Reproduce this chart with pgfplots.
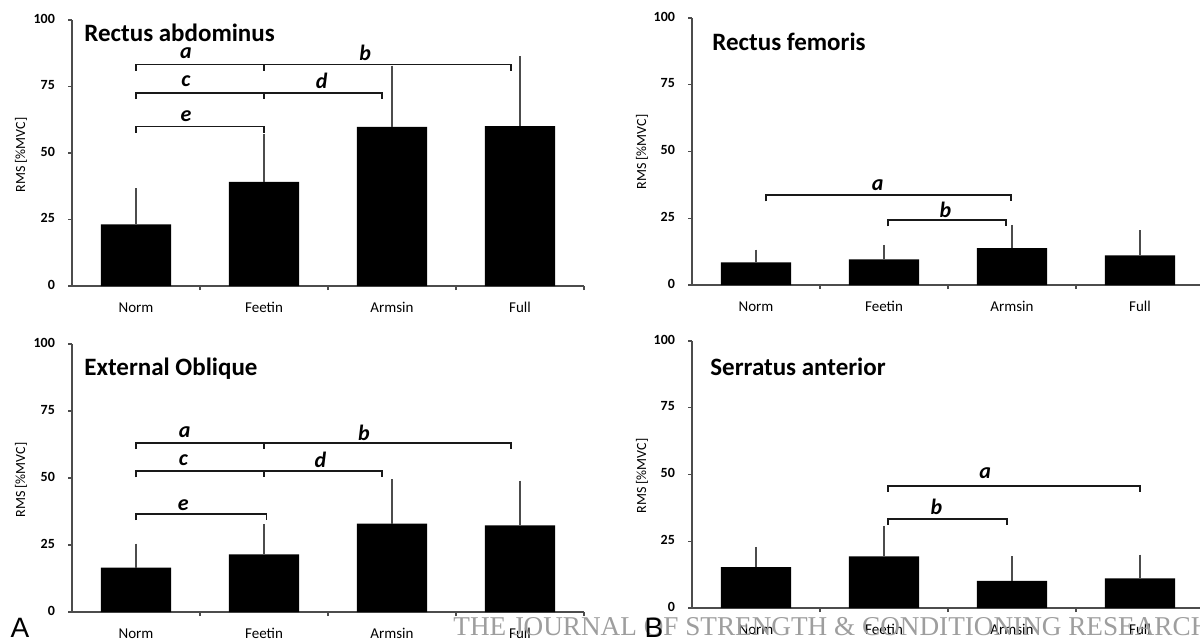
\documentclass[border=0pt]{standalone}
\usepackage{fontspec}
\setmainfont{Carlito}
\newfontfamily\arialf{Liberation Sans}
\newfontfamily\timesf{Liberation Serif}
\usepackage{pgfplots}
\pgfplotsset{compat=1.18}
\pgfplotsset{
 panel/.style={
  scale only axis, width=256pt,
  xmin=0.5, xmax=4.5, ymin=0, ymax=100,
  axis x line=bottom, axis y line=left,
  axis line style={-, black!70, line width=0.6pt},
  tick style={black!70, line width=0.6pt},
  major tick length=2pt, tick align=outside,
  ytick={0,25,50,75,100},
  xtick={1.5,2.5,3.5,4.5},
  xticklabels={Norm,Feetin,Armsin,Full},
  typeset ticklabels with strut,
  xticklabel style={xshift=-32pt, yshift=-1.5pt, font=\fontsize{7.5}{9}\selectfont},
  yticklabel style={xshift=-3pt, font=\fontsize{7}{8}\selectfont\bfseries},
  /pgf/number format/assume math mode=true,
  clip=false,
 },
 bars/.style={ybar, bar width=0.55, fill=black, draw=none,
   error bars/y dir=plus, error bars/y explicit,
   error bars/error bar style={black!70, line width=0.6pt},
   error bars/error mark options={black!70, mark size=1.5pt, line width=1pt}},
 br/.style={black!90, line width=0.9pt},
}
\tikzset{lab/.style={font=\fontsize{11}{12}\selectfont\bfseries\itshape, inner sep=0pt},
 ttl/.style={anchor=west, inner sep=0pt, font=\fontsize{12.5}{14}\selectfont\bfseries},
 ylab/.style={rotate=90, inner sep=0pt, font=\fontsize{7}{8}\selectfont}}
\begin{document}
\begin{tikzpicture}
\fill[white] (0,0) rectangle (600pt,319.5pt);
% ---------- Rectus abdominus ----------
\begin{axis}[panel, height=133pt, at={(36pt,176.5pt)}, anchor=south west]
\addplot[bars] table[x=x, y=y, y error=e, row sep=\\] {x y e\\ 1 23.2 12.4\\ 2 39.1 16.9\\ 3 59.8 21.9\\ 4 60.1 25.1\\};
\addplot[br] coordinates {(1,81.0) (1,83.3) (3.93,83.3) (3.93,81.0)};
\addplot[br] coordinates {(2,83.3) (2,81.0)};
\addplot[br] coordinates {(1,70.3) (1,72.6) (2.92,72.6) (2.92,70.3)};
\addplot[br] coordinates {(2,72.6) (2,70.3)};
\addplot[br] coordinates {(1,57.7) (1,60.0) (2,60.0) (2,57.7)};
\node[lab] at (axis cs:1.39,87.7) {a};
\node[lab] at (axis cs:2.79,87.7) {b};
\node[lab] at (axis cs:1.39,77.0) {c};
\node[lab] at (axis cs:2.45,77.0) {d};
\node[lab] at (axis cs:1.39,63.8) {e};
\end{axis}
% ---------- Rectus femoris ----------
\begin{axis}[panel, height=133.5pt, at={(346pt,177pt)}, anchor=south west]
\addplot[bars] table[x=x, y=y, y error=e, row sep=\\] {x y e\\ 1 8.5 3.6\\ 2 9.6 4.3\\ 3 13.8 7.6\\ 4 11.1 8.2\\};
\addplot[br] coordinates {(1.08,31.3) (1.08,33.6) (2.99,33.6) (2.99,31.3)};
\addplot[br] coordinates {(2.03,22.0) (2.03,24.3) (2.95,24.3) (2.95,22.0)};
\node[lab] at (axis cs:1.95,37.4) {a};
\node[lab] at (axis cs:2.48,28.2) {b};
\end{axis}
% ---------- External Oblique ----------
\begin{axis}[panel, height=134pt, at={(36pt,13.5pt)}, anchor=south west]
\addplot[bars] table[x=x, y=y, y error=e, row sep=\\] {x y e\\ 1 16.6 7.8\\ 2 21.5 10.1\\ 3 33.0 15.5\\ 4 32.3 15.6\\};
\addplot[br] coordinates {(1,60.8) (1,63.1) (3.93,63.1) (3.93,60.8)};
\addplot[br] coordinates {(2,63.1) (2,60.8)};
\addplot[br] coordinates {(1,50.2) (1,52.5) (2.92,52.5) (2.92,50.2)};
\addplot[br] coordinates {(2,52.5) (2,50.2)};
\addplot[br] coordinates {(1,34.3) (1,36.6) (2.02,36.6) (2.02,34.3)};
\node[lab] at (axis cs:1.38,67.0) {a};
\node[lab] at (axis cs:2.78,67.0) {b};
\node[lab] at (axis cs:1.37,56.6) {c};
\node[lab] at (axis cs:2.44,56.6) {d};
\node[lab] at (axis cs:1.37,39.8) {e};
\end{axis}
% ---------- Serratus anterior ----------
\begin{axis}[panel, height=133.5pt, at={(346pt,15.5pt)}, anchor=south west]
\addplot[bars] table[x=x, y=y, y error=e, row sep=\\] {x y e\\ 1 15.3 6.5\\ 2 19.3 10.3\\ 3 10.2 8.1\\ 4 11.1 7.8\\};
\addplot[br] coordinates {(2.03,43.5) (2.03,45.8) (4.0,45.8) (4.0,43.5)};
\addplot[br] coordinates {(2.03,31.1) (2.03,33.4) (2.96,33.4) (2.96,31.1)};
\node[lab] at (axis cs:2.79,50.4) {a};
\node[lab] at (axis cs:2.41,38.0) {b};
\end{axis}
% titles and labels
\node[ttl] at (42pt,303pt) {Rectus abdominus};
\node[ttl] at (356pt,298.5pt) {Rectus femoris};
\node[ttl] at (42pt,135pt) {External Oblique};
\node[ttl] at (355pt,136pt) {Serratus anterior};
\node[ylab] at (10.5pt,242pt) {RMS [\%MVC]};
\node[ylab] at (321pt,243.5pt) {RMS [\%MVC]};
\node[ylab] at (10.5pt,79.5pt) {RMS [\%MVC]};
\node[ylab] at (321pt,81.5pt) {RMS [\%MVC]};
\node[anchor=base west, inner sep=0pt, font=\timesf\fontsize{13.6}{15}\selectfont, text=black!38] at (226.5pt,1.8pt) {THE JOURNAL OF STRENGTH \& CONDITIONING RESEARCH};
\node[anchor=base, inner sep=0pt, font=\arialf\fontsize{14}{16}\selectfont] at (10pt,1pt) {A};
\node[anchor=base, inner sep=0pt, font=\arialf\fontsize{14}{16}\selectfont] at (327pt,1pt) {B};
\pgfresetboundingbox
\path[use as bounding box] (0,0) rectangle (600pt,319.5pt);
\end{tikzpicture}
\end{document}
